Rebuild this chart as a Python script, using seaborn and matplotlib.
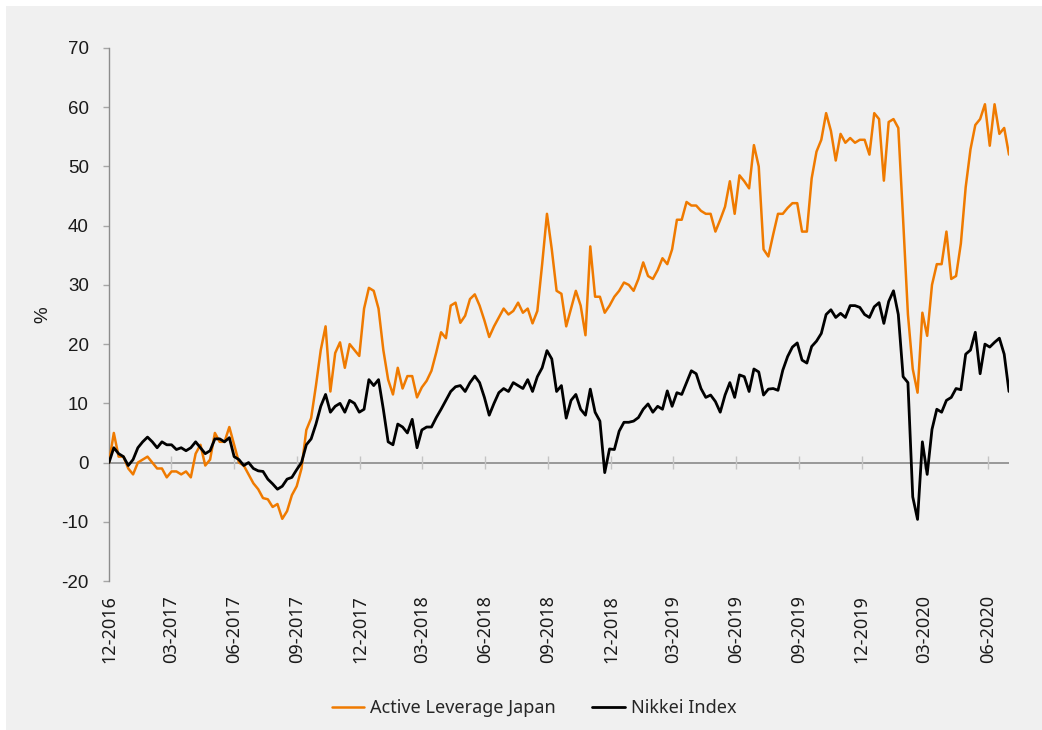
import pandas as pd
import matplotlib
matplotlib.use("Agg")
import matplotlib.pyplot as plt
from matplotlib.patches import Rectangle
import seaborn as sns

# weekly readings (cumulative %, start = 12-2016)
start_date = "2016-12-01"

active_leverage_japan = [
    0, 5, 1, 1, -1, -2, 0, 0.5, 1, 0,
    -1, -1, -2.5, -1.5, -1.5, -2, -1.5, -2.5, 1.5, 3,
    -0.5, 0.5, 5, 3.5, 3.5, 6, 3, 0, -0.5, -2,
    -3.5, -4.5, -6, -6.2, -7.5, -7, -9.5, -8.2, -5.5, -4,
    -1, 5.5, 7.5, 13, 19, 23, 12, 18.5, 20.3, 16,
    20, 19, 18, 26, 29.5, 29, 26, 19, 14, 11.5,
    16, 12.5, 14.6, 14.6, 11, 12.7, 13.8, 15.5, 18.6, 22,
    21, 26.5, 27, 23.6, 24.8, 27.6, 28.4, 26.5, 24, 21.2,
    23, 24.5, 26, 25, 25.6, 27, 25.3, 26, 23.5, 25.6,
    33.5, 42, 36, 29, 28.5, 23, 26, 29, 26.5, 21.5,
    36.5, 28, 28, 25.3, 26.5, 28, 29, 30.4, 30, 29,
    31, 33.8, 31.5, 31, 32.5, 34.5, 33.5, 36, 41, 41,
    44, 43.4, 43.4, 42.5, 42, 42, 39, 41, 43.2, 47.5,
    42, 48.5, 47.5, 46.3, 53.6, 50, 36, 34.8, 38.5, 42,
    42, 43, 43.8, 43.8, 39, 39, 48, 52.5, 54.5, 59,
    56, 51, 55.5, 54, 54.8, 54, 54.5, 54.5, 52, 59,
    58, 47.6, 57.5, 58, 56.5, 41, 25, 15.8, 11.8, 25.3,
    21.4, 30, 33.5, 33.5, 39, 31, 31.5, 37, 46.5, 52.9,
    57, 58, 60.5, 53.5, 60.5, 55.5, 56.5, 52,
]

nikkei_index = [
    0, 2.5, 1.5, 1, -0.5, 0.5, 2.5, 3.5, 4.3, 3.5,
    2.5, 3.5, 3, 3, 2.2, 2.5, 2, 2.5, 3.5, 2.5,
    1.5, 2, 4, 4, 3.5, 4.2, 1, 0.5, -0.5, 0,
    -1, -1.4, -1.5, -2.8, -3.6, -4.5, -4, -2.8, -2.5, -1.2,
    0, 3, 4, 6.5, 9.5, 11.5, 8.5, 9.5, 10, 8.5,
    10.5, 10, 8.5, 9, 14, 13, 14, 9, 3.5, 3,
    6.5, 6, 5, 7.3, 2.5, 5.5, 6, 6, 7.6, 9,
    10.5, 12, 12.8, 13, 12, 13.5, 14.6, 13.5, 11, 8,
    10, 11.8, 12.5, 12, 13.5, 13, 12.5, 14, 12, 14.5,
    16, 18.9, 17.5, 12, 13, 7.5, 10.5, 11.5, 9, 8,
    12.4, 8.5, 7, -1.7, 2.3, 2.2, 5.3, 6.8, 6.8, 7,
    7.6, 9, 9.9, 8.5, 9.5, 9, 12.1, 9.5, 11.8, 11.5,
    13.5, 15.5, 15, 12.5, 11, 11.4, 10.3, 8.5, 11.4, 13.5,
    11, 14.8, 14.5, 12, 15.8, 15.3, 11.4, 12.4, 12.5, 12.2,
    15.6, 17.9, 19.5, 20.2, 17.3, 16.8, 19.6, 20.5, 21.8, 25,
    25.8, 24.5, 25.2, 24.5, 26.5, 26.5, 26.2, 25, 24.5, 26.3,
    27, 23.5, 27.2, 29, 25, 14.5, 13.5, -5.8, -9.6, 3.5,
    -2, 5.6, 9, 8.5, 10.5, 11, 12.5, 12.3, 18.3, 19,
    22, 15, 20, 19.5, 20.3, 21, 18.3, 12,
]

tick_labels = ["12-2016", "03-2017", "06-2017", "09-2017", "12-2017",
               "03-2018", "06-2018", "09-2018", "12-2018", "03-2019",
               "06-2019", "09-2019", "12-2019", "03-2020", "06-2020"]
y_ticks = [-20, -10, 0, 10, 20, 30, 40, 50, 60, 70]

ORANGE = "#EF7A00"
BG = "#f0f0f0"

dates = pd.date_range(start_date, periods=len(active_leverage_japan), freq="7D")
df = pd.DataFrame({
    "Date": dates,
    "Active Leverage Japan": active_leverage_japan,
    "Nikkei Index": nikkei_index,
})
tick_dates = pd.to_datetime(tick_labels, format="%m-%Y")

sns.set_style("white")
plt.rcParams["font.family"] = ["Noto Sans", "DejaVu Sans"]

fig = plt.figure(figsize=(10.42, 7.30), dpi=100)
fig.patches.append(Rectangle((6 / 1042, 0), 1, 724 / 730, transform=fig.transFigure,
                             facecolor=BG, edgecolor="none", zorder=-10))
ax = fig.add_axes([109 / 1042, 1 - 581 / 730, 900 / 1042, 533 / 730])
ax.set_facecolor(BG)

# zero line with small quarter marks
ax.axhline(0, color="#808080", lw=1.1, zorder=1)
ax.vlines(tick_dates[1:], -1.1, 1.1, color="#c4c4c4", lw=1, zorder=1)

sns.lineplot(data=df, x="Date", y="Active Leverage Japan", color=ORANGE, lw=1.8,
             label="Active Leverage Japan", ax=ax, zorder=3)
sns.lineplot(data=df, x="Date", y="Nikkei Index", color="black", lw=2.0,
             label="Nikkei Index", ax=ax, zorder=4)

ax.set_xlim(dates[0], dates[-1])
ax.set_ylim(-20, 70)
ax.set_xticks(tick_dates)
ax.set_xticklabels(tick_labels, rotation=90, fontsize=13, color="#1a1a1a")
ax.set_yticks(y_ticks)
ax.set_yticklabels([str(v) for v in y_ticks], fontsize=13.5, family="Liberation Sans", color="#1a1a1a")
ax.tick_params(axis="x", length=0, pad=10)
ax.tick_params(axis="y", left=True, length=4.5, width=1, color="#a6a6a6", pad=10)
ax.set_xlabel("")
ax.set_ylabel("%", fontsize=13.5, family="Liberation Sans", color="#1a1a1a")
ax.yaxis.set_label_coords(-0.064, 0.5)

for side in ["top", "right", "bottom"]:
    ax.spines[side].set_visible(False)
ax.spines["left"].set_color("#8c8c8c")
ax.spines["left"].set_linewidth(1)

handles, labels = ax.get_legend_handles_labels()
ax.get_legend().remove()
fig.legend(handles, labels, loc="center", bbox_to_anchor=(534 / 1042, 1 - 708 / 730),
           ncol=2, frameon=False, fontsize=13, handlelength=1.8, handletextpad=0.35,
           columnspacing=2.0)

fig.savefig("out.png", dpi=100)
